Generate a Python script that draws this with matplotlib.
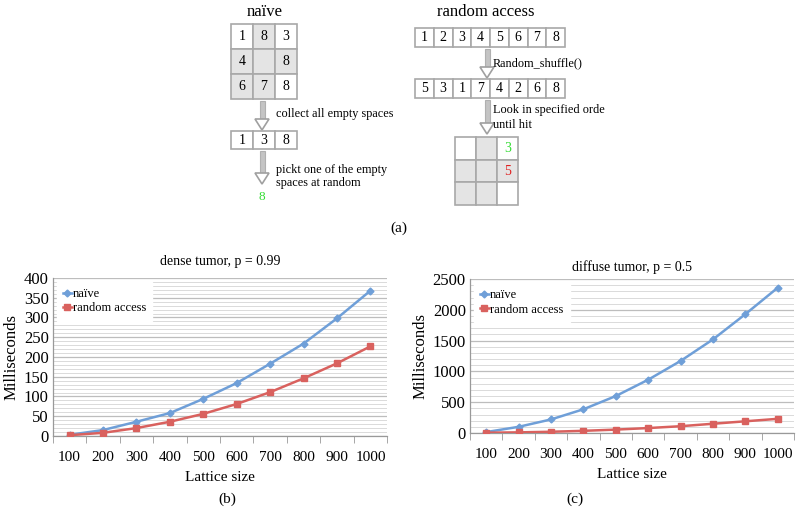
import matplotlib
matplotlib.use("Agg")
import matplotlib.pyplot as plt
import matplotlib.patches as mpatches
from matplotlib.ticker import MultipleLocator

# ---------------- data ----------------
lattice_sizes = ["100", "200", "300", "400", "500", "600", "700", "800", "900", "1000"]
dense_naive = [3, 15, 36, 58, 94, 134, 183, 234, 298, 368]
dense_random = [2, 8, 20, 36, 56, 81, 111, 146, 184, 227]
diffuse_naive = [15, 100, 220, 385, 600, 865, 1170, 1520, 1930, 2360]
diffuse_random = [5, 10, 20, 35, 55, 80, 110, 150, 190, 230]

naive_grid = [["1", "8", "3"], ["4", "", "8"], ["6", "7", "8"]]
naive_grid_empty = [[True, False, True], [False, False, False], [False, False, True]]
naive_list = ["1", "3", "8"]
ra_list = ["1", "2", "3", "4", "5", "6", "7", "8"]
ra_shuffled = ["5", "3", "1", "7", "4", "2", "6", "8"]
ra_grid_empty = [[True, False, True], [False, False, False], [False, False, True]]

BLUE = "#6f9fd8"
RED = "#d9615e"
SERIF = "Liberation Serif"
plt.rcParams["font.family"] = SERIF

fig = plt.figure(figsize=(8.0, 5.17), dpi=100)


def make_chart(rect, naive, rand, ymax, major, minor, title, tpad):
    ax = fig.add_axes(rect)
    x = list(range(1, len(lattice_sizes) + 1))
    ax.plot(x, naive, color=BLUE, lw=1.8, marker="D", ms=3.5, label="naïve", zorder=3)
    ax.plot(x, rand, color=RED, lw=1.8, marker="s", ms=4.5, label="random access", zorder=3)
    ax.set_xlim(0.5, len(x) + 0.5)
    ax.set_ylim(0, ymax)
    ax.yaxis.set_major_locator(MultipleLocator(major))
    ax.yaxis.set_minor_locator(MultipleLocator(minor))
    ax.grid(axis="y", which="major", color="#bdbdbd", lw=0.9)
    ax.grid(axis="y", which="minor", color="#dadada", lw=0.7)
    ax.set_axisbelow(True)
    ax.set_xticks(x)
    ax.set_xticklabels(lattice_sizes, fontsize=11)
    ax.set_xticks([i + 0.5 for i in range(0, len(x) + 1)], minor=True)
    ax.tick_params(axis="x", which="major", length=0, pad=11)
    ax.tick_params(axis="x", which="minor", length=5, color="#999999")
    ax.tick_params(axis="y", which="both", length=0, labelsize=12, pad=3)
    for s in ["top", "right"]:
        ax.spines[s].set_visible(False)
    for s in ["left", "bottom"]:
        ax.spines[s].set_color("#999999")
        ax.spines[s].set_linewidth(0.9)
    ax.set_xlabel("Lattice size", fontsize=11, labelpad=5)
    ax.set_ylabel("Milliseconds", fontsize=12, labelpad=3)
    ax.set_title(title, fontsize=10, pad=tpad)
    leg = ax.legend(loc="upper left", fontsize=9, frameon=True, fancybox=False,
                    handlelength=0.7, handletextpad=0.1, borderpad=0.5,
                    labelspacing=0.2, borderaxespad=0.3)
    leg.get_frame().set_edgecolor("white")
    leg.get_frame().set_facecolor("white")
    leg.get_frame().set_alpha(1)
    return ax


make_chart([0.066, 0.1567, 0.418, 0.3056], dense_naive, dense_random, 400, 50, 10,
           "dense tumor, p = 0.99", 9)
make_chart([0.5875, 0.1625, 0.405, 0.2978], diffuse_naive, diffuse_random, 2500, 500, 100,
           "diffuse tumor, p = 0.5", 6)

# ---------------- diagram (a) ----------------
dg = fig.add_axes([0, 0, 1, 1], zorder=-1)
dg.set_xlim(0, 800)
dg.set_ylim(517, 0)
dg.axis("off")

GRAY_FILL = "#e4e4e4"
EDGE = "#a8a8a8"
FS_NOTE = 8.8


def cell(x0, y0, w, h, txt="", fill="white", color="black", fs=10):
    dg.add_patch(mpatches.Rectangle((x0, y0), w, h, facecolor=fill, edgecolor=EDGE, lw=1.2))
    if txt:
        dg.text(x0 + w / 2, y0 + h / 2, txt, ha="center", va="center", fontsize=fs, color=color)


def arrow(xc, y0, y1):
    head = 11
    dg.add_patch(mpatches.Rectangle((xc - 2.5, y0), 5, (y1 - y0) - head,
                                    facecolor="#c4c4c4", edgecolor="#b0b0b0", lw=0.8))
    dg.add_patch(mpatches.Polygon([(xc - 7, y1 - head), (xc + 7, y1 - head), (xc, y1)],
                                  closed=True, facecolor="white", edgecolor="#a0a0a0", lw=1.2))


# naive
dg.text(265, 12, "naïve", ha="center", va="center", fontsize=12)
cw, ch = 22, 25
gx, gy = 231, 24
for r in range(3):
    for c in range(3):
        cell(gx + c * cw, gy + r * ch, cw, ch, naive_grid[r][c],
             "white" if naive_grid_empty[r][c] else GRAY_FILL)
arrow(262, 101, 130)
dg.text(276, 114, "collect all empty spaces", ha="left", va="center", fontsize=FS_NOTE)
for i, t in enumerate(naive_list):
    cell(231 + i * 22, 131, 22, 18, t)
arrow(262, 151, 184)
dg.text(276, 170, "pickt one of the empty", ha="left", va="center", fontsize=FS_NOTE)
dg.text(276, 183, "spaces at random", ha="left", va="center", fontsize=FS_NOTE)
dg.text(262, 197, "8", ha="center", va="center", fontsize=9.5, color="#33dd33")

# random access
dg.text(486, 12, "random access", ha="center", va="center", fontsize=12)
rw = 18.75
for i, t in enumerate(ra_list):
    cell(415 + i * rw, 28, rw, 19, t)
arrow(487, 49, 78)
dg.text(493, 63, "Random_shuffle()", ha="left", va="center", fontsize=FS_NOTE)
for i, t in enumerate(ra_shuffled):
    cell(415 + i * rw, 79, rw, 19, t)
arrow(487, 100, 134)
dg.text(493, 110, "Look in specified orde", ha="left", va="center", fontsize=FS_NOTE)
dg.text(493, 125, "until hit", ha="left", va="center", fontsize=FS_NOTE)
gw, gh = 21, 22.7
gx2, gy2 = 455, 137
for r in range(3):
    for c in range(3):
        cell(gx2 + c * gw, gy2 + r * gh, gw, gh, "",
             "white" if ra_grid_empty[r][c] else GRAY_FILL)
dg.text(gx2 + 2.5 * gw, gy2 + 0.5 * gh, "3", ha="center", va="center", fontsize=10, color="#33dd33")
dg.text(gx2 + 2.5 * gw, gy2 + 1.5 * gh, "5", ha="center", va="center", fontsize=10, color="#e02020")

# panel labels
fig.text(399 / 800, 1 - 228 / 517, "(a)", ha="center", va="center", fontsize=11)
fig.text(227 / 800, 1 - 499 / 517, "(b)", ha="center", va="center", fontsize=11)
fig.text(575 / 800, 1 - 499 / 517, "(c)", ha="center", va="center", fontsize=11)

fig.savefig("out.png", dpi=100)
